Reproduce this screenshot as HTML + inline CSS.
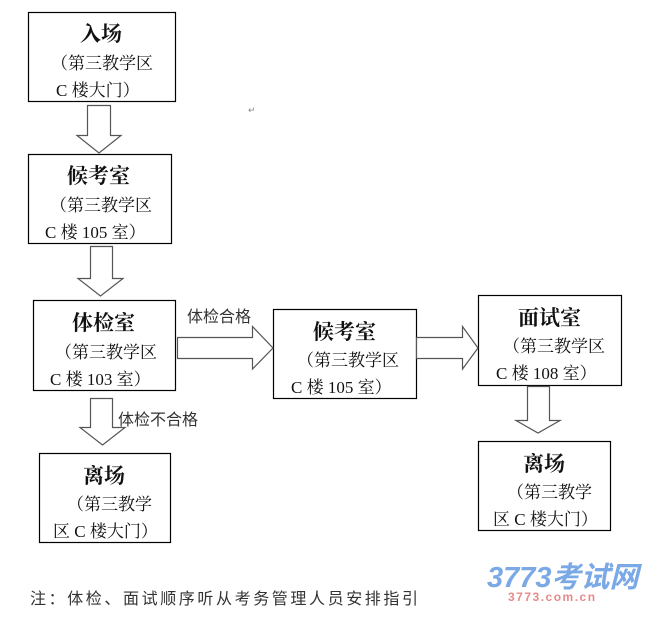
<!DOCTYPE html>
<html><head><meta charset="utf-8"><style>
html,body{margin:0;padding:0;background:#fff;width:657px;height:620px;overflow:hidden}
svg text{font-family:"Liberation Serif","Noto Serif CJK SC","Noto Sans CJK SC",serif;fill:#111}
.t{font-size:21px;font-weight:bold}
.s{font-size:17px}
.l{font-size:16px;font-family:"Liberation Sans","Noto Sans CJK SC",sans-serif;fill:#333}
.r{font-size:9px;fill:#888}
</style></head><body>
<svg width="657" height="620" viewBox="0 0 657 620" xmlns="http://www.w3.org/2000/svg">
<g fill="#fff" stroke="#000" stroke-width="1.2">
<rect x="28.5" y="12.5" width="147" height="89"/>
<rect x="28.5" y="154.5" width="143" height="89"/>
<rect x="33.5" y="300.5" width="142" height="90"/>
<rect x="273.5" y="309.5" width="143" height="89"/>
<rect x="478.5" y="295.5" width="143" height="90"/>
<rect x="478.5" y="441.5" width="132" height="89"/>
<rect x="39.5" y="453.5" width="131" height="89"/>
</g>
<g fill="#fff" stroke="#555" stroke-width="1.2">
<path d="M87.5 105.5 H110.5 V135.5 H121 L99 153 L77 135.5 H87.5 Z"/>
<path d="M90.5 246.5 H112.5 V278.5 H123 L100.5 296 L78 278.5 H90.5 Z"/>
<path d="M90.5 398.5 H112.5 V427.5 H125 L102.5 445 L80 427.5 H90.5 Z"/>
<path d="M527.5 386.5 H549.5 V420.5 H560 L538 433 L516 420.5 H527.5 Z"/>
<path d="M177.5 337.5 H252.5 V326.5 L273 348 L252.5 369 V358.5 H177.5 Z"/>
<path d="M416.5 337.5 H462.5 V326.5 L478 348 L462.5 369 V358.5 H416.5 Z"/>
</g>
<text class="t" x="80" y="41">入场</text>
<text class="s" x="51" y="69">（第三教学区</text>
<text class="s" x="56" y="96">C 楼大门）</text>
<text class="t" x="67" y="183">候考室</text>
<text class="s" x="50" y="211">（第三教学区</text>
<text class="s" x="45" y="238">C 楼 105 室）</text>
<text class="t" x="72" y="330">体检室</text>
<text class="s" x="55" y="358">（第三教学区</text>
<text class="s" x="50" y="385">C 楼 103 室）</text>
<text class="t" x="313" y="339">候考室</text>
<text class="s" x="297" y="366">（第三教学区</text>
<text class="s" x="291" y="393">C 楼 105 室）</text>
<text class="t" x="518" y="325">面试室</text>
<text class="s" x="503" y="352">（第三教学区</text>
<text class="s" x="496" y="379">C 楼 108 室）</text>
<text class="t" x="523" y="471">离场</text>
<text class="s" x="507" y="498">（第三教学</text>
<text class="s" x="493" y="525">区 C 楼大门）</text>
<text class="t" x="83" y="483">离场</text>
<text class="s" x="67" y="510">（第三教学</text>
<text class="s" x="53" y="537">区 C 楼大门）</text>
<text class="l" x="187" y="322">体检合格</text>
<text class="l" x="118" y="425">体检不合格</text>
<text class="l" x="30" y="604" style="letter-spacing:2.6px">注：体检、面试顺序听从考务管理人员安排指引</text>
<text class="r" x="248" y="113">↵</text>
<text x="487" y="587" style="font-family:'Liberation Sans','Noto Sans CJK SC',sans-serif;font-size:29px;font-weight:bold;font-style:italic;fill:#7aa9e6">3773考试网</text>
<text x="508" y="601" style="font-family:'Liberation Sans',sans-serif;font-size:12px;font-weight:bold;fill:#e88a8a;letter-spacing:1.5px">3773.com.cn</text>
</svg>
</body></html>
